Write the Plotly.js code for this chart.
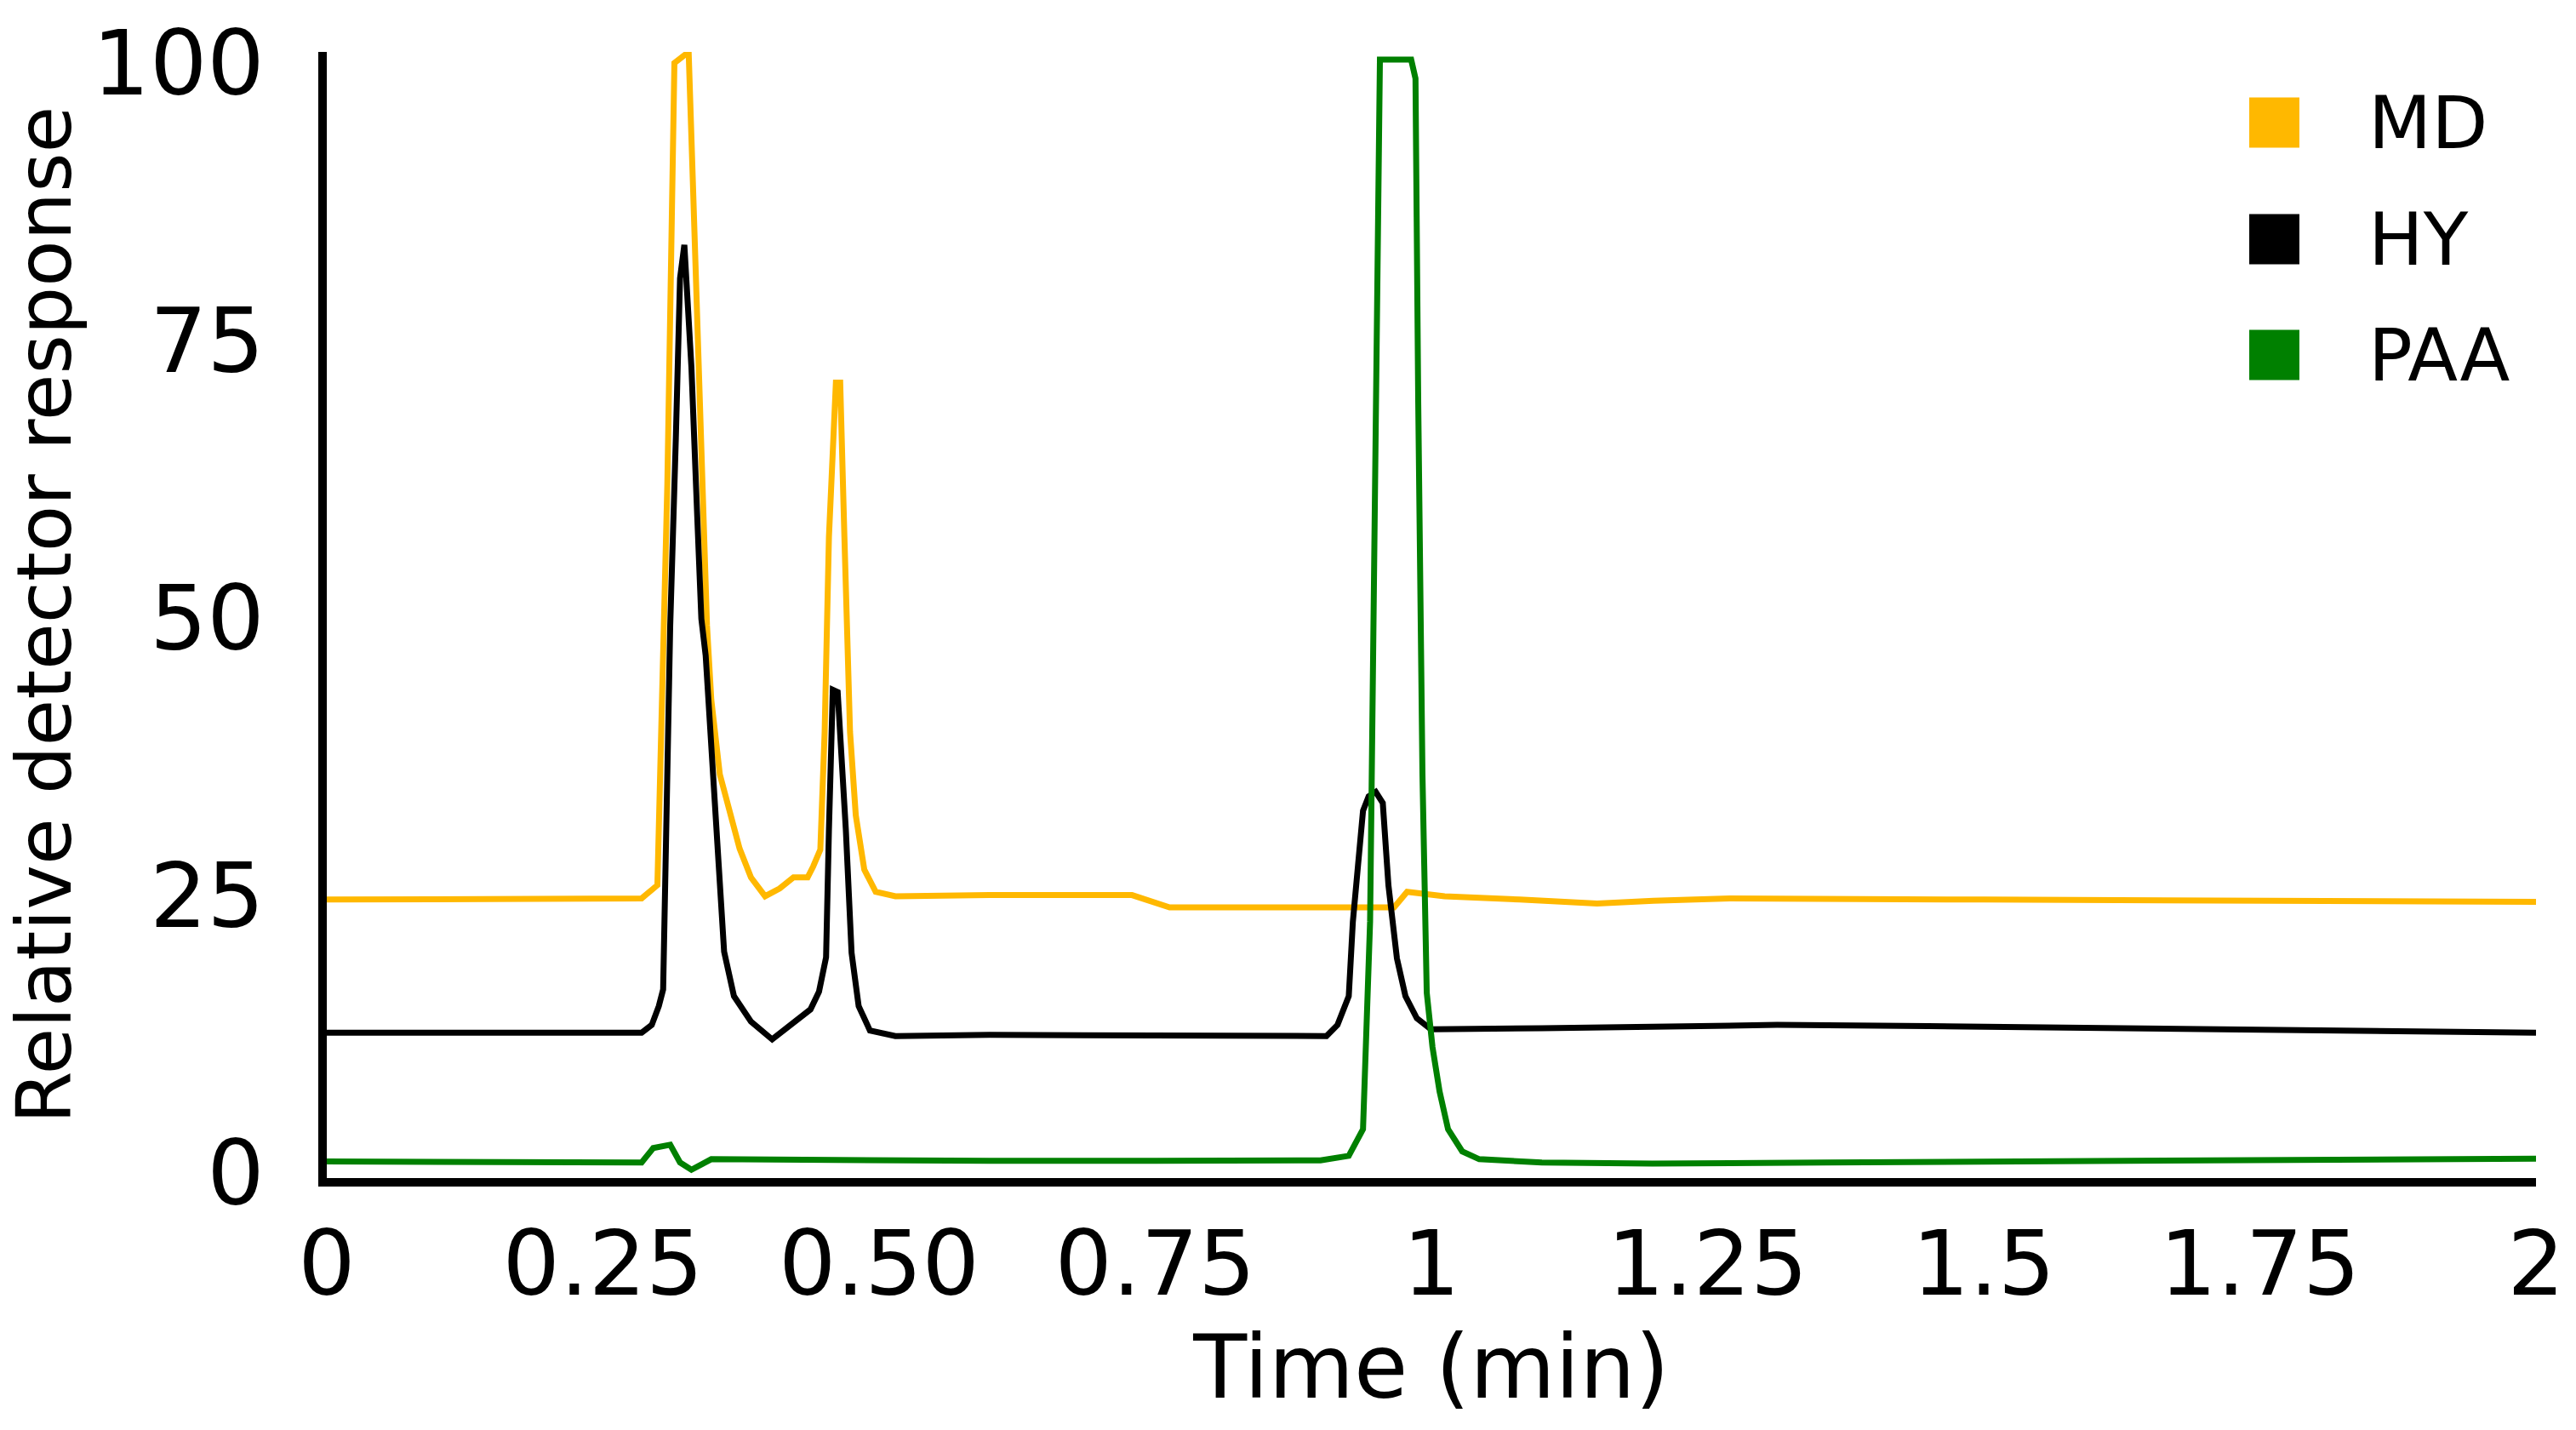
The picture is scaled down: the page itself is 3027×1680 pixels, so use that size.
<!DOCTYPE html>
<html>
<head>
<meta charset="utf-8">
<script src="https://cdn.plot.ly/plotly-3.0.1.min.js"></script>
<style>
  html, body { margin: 0; padding: 0; background: #ffffff; }
  #chart { width: 3027px; height: 1680px; }
</style>
</head>
<body>
<div id="chart"></div>
<script>
// ---- Data ----
const seriesNames = ["MD", "HY", "PAA"];
const seriesColors = ["#FFB800", "#000000", "#008000"];

const timeMD = [0, 0.10, 0.20, 0.285, 0.2993, 0.3083, 0.3147, 0.3276, 0.3314, 0.3353, 0.3399, 0.3442, 0.3481, 0.3558, 0.3737, 0.3840, 0.3968, 0.4100, 0.4225, 0.4353, 0.4404, 0.4468, 0.4507, 0.4546, 0.4609, 0.4648, 0.4686, 0.4737, 0.4789, 0.4866, 0.4969, 0.5148, 0.60, 0.70, 0.729, 0.763, 0.85, 0.926, 0.9662, 0.978, 1.012, 1.08, 1.150, 1.201, 1.270, 1.50, 1.75, 2.0];
const valMD  = [24.6, 24.6, 24.6, 24.7, 25.9, 62.0, 100.0, 101.0, 89.3, 76.0, 62.6, 49.3, 42.6, 35.9, 29.2, 26.6, 24.9, 25.6, 26.6, 26.6, 27.6, 29.1, 39.7, 57.3, 71.2, 71.2, 57.3, 39.7, 32.2, 27.3, 25.3, 24.9, 25.0, 25.0, 25.0, 23.9, 23.9, 23.9, 23.9, 25.3, 24.9, 24.6, 24.25, 24.5, 24.7, 24.6, 24.5, 24.4];

const timeHY = [0, 0.10, 0.20, 0.285, 0.2942, 0.3006, 0.3045, 0.3070, 0.3109, 0.3160, 0.3198, 0.3237, 0.3301, 0.3353, 0.3391, 0.3430, 0.3481, 0.3532, 0.3597, 0.3686, 0.3840, 0.4032, 0.4250, 0.4379, 0.4456, 0.4520, 0.4546, 0.4571, 0.4581, 0.4625, 0.4648, 0.4699, 0.4751, 0.4815, 0.4917, 0.5148, 0.60, 0.70, 0.80, 0.905, 0.9150, 0.9252, 0.9289, 0.9381, 0.9432, 0.9496, 0.9560, 0.9611, 0.9688, 0.9765, 0.9868, 0.9996, 1.10, 1.20, 1.313, 1.45, 1.614, 1.80, 2.0];
const valHY  = [12.6, 12.6, 12.6, 12.6, 13.3, 15.0, 16.5, 29.2, 49.3, 66.2, 80.6, 83.6, 72.6, 59.3, 49.9, 46.6, 38.6, 29.2, 19.9, 15.9, 13.6, 12.0, 13.6, 14.7, 16.3, 19.4, 30.9, 39.7, 43.5, 43.3, 39.7, 30.9, 19.8, 15.0, 12.8, 12.3, 12.4, 12.4, 12.4, 12.3, 13.3, 15.9, 22.6, 32.6, 33.9, 34.3, 33.3, 25.9, 19.3, 15.9, 13.9, 12.9, 13.0, 13.2, 13.3, 13.2, 13.0, 12.8, 12.6];

const timePAA = [0, 0.10, 0.20, 0.285, 0.2955, 0.3109, 0.3198, 0.3301, 0.3481, 0.45, 0.60, 0.75, 0.8996, 0.9252, 0.9381, 0.9445, 0.9496, 0.9534, 0.9817, 0.9856, 0.9881, 0.9919, 0.9958, 1.0010, 1.0074, 1.0151, 1.0279, 1.0433, 1.10, 1.20, 1.356, 1.50, 1.70, 1.85, 2.0];
const valPAA  = [1.0, 1.0, 0.95, 0.9, 2.2, 2.5, 0.9, 0.25, 1.2, 1.1, 1.05, 1.05, 1.1, 1.5, 3.9, 22.6, 62.6, 100.3, 100.3, 98.6, 69.3, 35.9, 16.2, 11.3, 7.3, 3.9, 1.9, 1.2, 0.9, 0.8, 0.9, 1.0, 1.1, 1.2, 1.25];

const xTickVals = [0, 0.25, 0.5, 0.75, 1, 1.25, 1.5, 1.75, 2];
const xTickText = ["0", "0.25", "0.50", "0.75", "1", "1.25", "1.5", "1.75", "2"];
const yTickVals = [0, 25, 50, 75, 100];
const yTickText = ["0", "25", "50", "75", "100"];

const xTitle = "Time (min)";
const yTitle = "Relative detector response";

// ---- Build chart ----
const FONT = "DejaVu Sans, Verdana, sans-serif";
const times = [timeMD, timeHY, timePAA];
const vals = [valMD, valHY, valPAA];

const traces = seriesNames.map((name, i) => ({
  type: "scatter",
  mode: "lines",
  name: name,
  x: times[i],
  y: vals[i],
  line: { color: seriesColors[i], width: 7, shape: "linear" },
  showlegend: false,
  hoverinfo: "skip"
}));

// manual legend with square swatches
const legendY = [0.9373, 0.8337, 0.7309];
const swatchHalf = 0.0223;
const shapes = seriesNames.map((name, i) => ({
  type: "rect", xref: "paper", yref: "paper",
  x0: 0.8702, x1: 0.8929,
  y0: legendY[i] - swatchHalf, y1: legendY[i] + swatchHalf,
  fillcolor: seriesColors[i], line: { width: 0 }
}));
const annotations = seriesNames.map((name, i) => ({
  xref: "paper", yref: "paper",
  x: 0.9235, y: legendY[i],
  xanchor: "left", yanchor: "middle",
  text: name, showarrow: false,
  font: { family: FONT, size: 86, color: "#000000" }
}));

const layout = {
  width: 3027, height: 1680,
  paper_bgcolor: "#ffffff", plot_bgcolor: "#ffffff",
  margin: { l: 384, r: 47, t: 61, b: 296, pad: 0 },
  showlegend: false,
  font: { family: FONT, color: "#000000" },
  xaxis: {
    range: [0, 2],
    tickvals: xTickVals, ticktext: xTickText,
    ticks: "", showgrid: false, zeroline: false,
    showline: true, linecolor: "#000000", linewidth: 10,
    tickfont: { family: FONT, size: 106, color: "#000000" },
    ticklabelstandoff: 0,
    title: { text: xTitle, font: { family: FONT, size: 103, color: "#000000" }, standoff: 25 },
    automargin: false, fixedrange: true
  },
  yaxis: {
    range: [-0.5, 101],
    tickvals: yTickVals, ticktext: yTickText,
    ticks: "", showgrid: false, zeroline: false,
    showline: true, linecolor: "#000000", linewidth: 10,
    tickfont: { family: FONT, size: 106, color: "#000000" },
    ticklabelstandoff: 42,
    title: { text: yTitle, font: { family: FONT, size: 89, color: "#000000" }, standoff: 28 },
    automargin: false, fixedrange: true
  },
  shapes: shapes,
  annotations: annotations
};

Plotly.newPlot("chart", traces, layout, { displayModeBar: false, staticPlot: true });
</script>
</body>
</html>
